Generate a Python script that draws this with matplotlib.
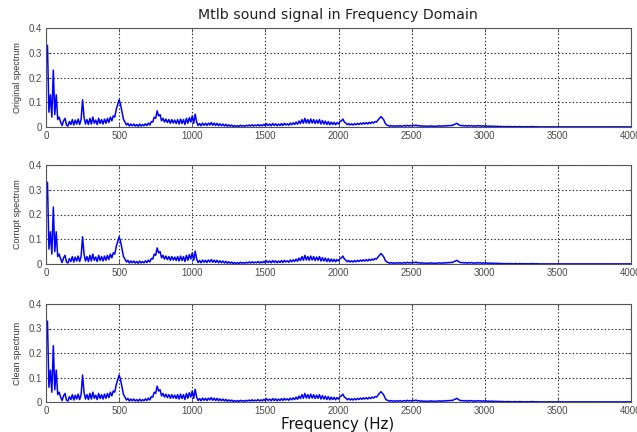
import numpy as np
import matplotlib
matplotlib.use("Agg")
import matplotlib.pyplot as plt

# Magnitude spectrum sampled every 10 Hz from 0 to 4000 Hz
freq_step_hz = 10
original_spectrum = [
    0.24, 0.33, 0.06, 0.13, 0.04, 0.23, 0.05, 0.13, 0.03, 0.04,
    0.02, 0.006, 0.025, 0.035, 0.008, 0.004, 0.022, 0.01, 0.03, 0.008,
    0.028, 0.012, 0.032, 0.01, 0.03, 0.11, 0.04, 0.012, 0.03, 0.01,
    0.035, 0.012, 0.04, 0.015, 0.028, 0.01, 0.035, 0.014, 0.03, 0.012,
    0.032, 0.015, 0.035, 0.018, 0.04, 0.025, 0.045, 0.04, 0.07, 0.09,
    0.11, 0.09, 0.06, 0.03, 0.02, 0.008, 0.015, 0.004, 0.012, 0.005,
    0.012, 0.004, 0.01, 0.003, 0.012, 0.004, 0.01, 0.005, 0.013, 0.006,
    0.016, 0.008, 0.022, 0.02, 0.04, 0.035, 0.065, 0.045, 0.05, 0.025,
    0.035, 0.02, 0.032, 0.018, 0.03, 0.015, 0.03, 0.016, 0.028, 0.014,
    0.03, 0.012, 0.032, 0.014, 0.03, 0.01, 0.035, 0.015, 0.038, 0.02,
    0.045, 0.015, 0.052, 0.02, 0.006, 0.014, 0.005, 0.016, 0.007, 0.015,
    0.006, 0.016, 0.008, 0.018, 0.007, 0.016, 0.006, 0.015, 0.005, 0.013,
    0.005, 0.012, 0.004, 0.011, 0.003, 0.009, 0.003, 0.008, 0.002, 0.006,
    0.002, 0.006, 0.002, 0.007, 0.003, 0.006, 0.003, 0.007, 0.004, 0.008,
    0.004, 0.009, 0.004, 0.008, 0.005, 0.01, 0.004, 0.009, 0.005, 0.011,
    0.005, 0.013, 0.006, 0.012, 0.005, 0.014, 0.006, 0.013, 0.005, 0.012,
    0.006, 0.014, 0.006, 0.015, 0.008, 0.013, 0.007, 0.016, 0.009, 0.017,
    0.01, 0.02, 0.011, 0.024, 0.014, 0.03, 0.015, 0.035, 0.016, 0.03,
    0.015, 0.032, 0.016, 0.03, 0.014, 0.028, 0.015, 0.03, 0.012, 0.026,
    0.012, 0.024, 0.01, 0.022, 0.009, 0.02, 0.01, 0.019, 0.009, 0.018,
    0.012, 0.022, 0.025, 0.032, 0.02, 0.016, 0.009, 0.014, 0.008, 0.013,
    0.008, 0.014, 0.009, 0.015, 0.01, 0.016, 0.011, 0.017, 0.012, 0.018,
    0.012, 0.019, 0.014, 0.02, 0.016, 0.022, 0.02, 0.028, 0.035, 0.042,
    0.036, 0.028, 0.014, 0.008, 0.006, 0.003, 0.006, 0.003, 0.005, 0.003,
    0.005, 0.003, 0.006, 0.003, 0.004, 0.006, 0.003, 0.007, 0.004, 0.006,
    0.004, 0.007, 0.005, 0.008, 0.004, 0.006, 0.003, 0.005, 0.003, 0.004,
    0.002, 0.004, 0.002, 0.005, 0.003, 0.004, 0.002, 0.004, 0.003, 0.005,
    0.003, 0.005, 0.003, 0.006, 0.004, 0.006, 0.005, 0.007, 0.006, 0.01,
    0.012, 0.015, 0.01, 0.007, 0.005, 0.006, 0.004, 0.006, 0.003, 0.006,
    0.004, 0.006, 0.003, 0.005, 0.003, 0.006, 0.004, 0.005, 0.003, 0.005,
    0.003, 0.005, 0.002, 0.004, 0.002, 0.004, 0.002, 0.003, 0.002, 0.003,
    0.001, 0.003, 0.001, 0.002, 0.001, 0.002, 0.001, 0.002, 0.001, 0.001,
    0.001, 0.002, 0.001, 0.001, 0.002, 0.001, 0.001, 0.001, 0.001, 0.001,
    0.001, 0.001, 0.002, 0.001, 0.001, 0.001, 0.001, 0.0005, 0.0005, 0.0005,
    0.0004, 0.0004, 0.0004, 0.0004, 0.0004, 0.0004, 0.0004, 0.0004, 0.0004, 0.0004,
    0.0004, 0.0004, 0.0004, 0.0004, 0.0004, 0.0004, 0.0004, 0.0004, 0.0004, 0.0004,
    0.0004, 0.0004, 0.0004, 0.0004, 0.0004, 0.0004, 0.0004, 0.0004, 0.0004, 0.0004,
    0.0004, 0.0004, 0.0004, 0.0004, 0.0004, 0.0004, 0.0004, 0.0004, 0.0004, 0.0004,
    0.0004, 0.0004, 0.0004, 0.0004, 0.0004, 0.0004, 0.0004, 0.0004, 0.0004, 0.0004,
    0.0004, 0.0004, 0.0004, 0.0004, 0.0004, 0.0004, 0.0004, 0.0004, 0.0004, 0.0004,
    0.0004,
]
# The corrupted and cleaned spectra coincide with the original at this scale
corrupt_spectrum = list(original_spectrum)
clean_spectrum = list(original_spectrum)

panel_labels = ["Original spectrum", "Corrupt spectrum", "Clean spectrum"]
panel_series = [original_spectrum, corrupt_spectrum, clean_spectrum]
x_ticks = [0, 500, 1000, 1500, 2000, 2500, 3000, 3500, 4000]
y_ticks = [0, 0.1, 0.2, 0.3, 0.4]

W, H = 637, 432
fig = plt.figure(figsize=(W / 100, H / 100), dpi=100)

# axes boxes in pixels: (left, top, right, bottom)
boxes = [(46, 28, 631, 127), (46, 165, 631, 264), (46, 304, 631, 402)]
tick_color = "#4a4a4a"

for (l, t, r, b), label, series in zip(boxes, panel_labels, panel_series):
    ax = fig.add_axes([l / W, (H - b) / H, (r - l) / W, (b - t) / H])
    freqs = np.arange(len(series)) * freq_step_hz
    ax.plot(freqs, series, color="#0000ff", lw=1.1)
    ax.set_xlim(0, 4000)
    ax.set_ylim(0, 0.4)
    ax.set_xticks(x_ticks)
    ax.set_yticks(y_ticks)
    ax.set_xticklabels([str(v) for v in x_ticks])
    ax.set_yticklabels(["0", "0.1", "0.2", "0.3", "0.4"])
    ax.grid(True, color="#222222", linestyle=(0, (1.2, 2.0)), linewidth=0.8)
    ax.tick_params(direction="in", length=3, width=0.6, top=True, right=True,
                   labelsize=7, colors=tick_color, pad=3)
    for lab in ax.get_xticklabels() + ax.get_yticklabels():
        lab.set_family("Liberation Sans")
        lab.set_color(tick_color)
    for s in ax.spines.values():
        s.set_color("#555555")
        s.set_linewidth(0.8)
    ax.set_ylabel(label, fontsize=6.5, family="Liberation Sans",
                  color="#333333", labelpad=5)

fig.text(338 / W, 1 - 15 / H, "Mtlb sound signal in Frequency Domain",
         ha="center", va="center", fontsize=10.2, family="DejaVu Sans",
         color="#222222")
fig.text(338 / W, 1 - 425 / H, "Frequency (Hz)", ha="center", va="center",
         fontsize=10.8, family="DejaVu Sans", color="#111111")

fig.savefig("out.png", dpi=100)
